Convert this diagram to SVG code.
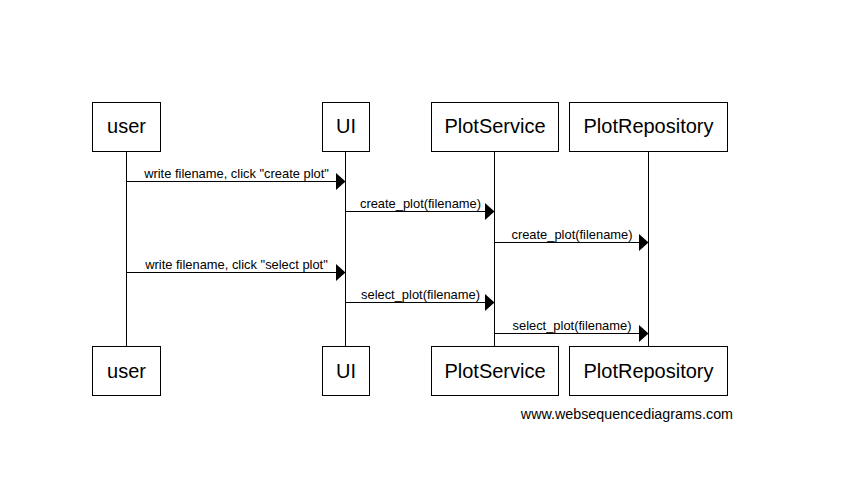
<svg xmlns="http://www.w3.org/2000/svg" width="864" height="501" viewBox="0 0 864 501">
<style>
.box{fill:#fff;stroke:#000;stroke-width:1}
.nt{font-family:"Liberation Sans",Arial,sans-serif;font-size:20px;text-anchor:middle;fill:#000}
.lt{font-family:"Liberation Sans",Arial,sans-serif;font-size:12.9px;text-anchor:middle;fill:#000}
.ll{stroke:#000;stroke-width:1}
.msg{stroke:#000;stroke-width:1;fill:none}
.ah{fill:#000}
</style>
<rect width="864" height="501" fill="#fff"/>
<g id="lifelines">
<line class="ll" x1="126.5" y1="151" x2="126.5" y2="346"/>
<line class="ll" x1="345.5" y1="151" x2="345.5" y2="346"/>
<line class="ll" x1="494.5" y1="151" x2="494.5" y2="346"/>
<line class="ll" x1="648.5" y1="151" x2="648.5" y2="346"/>
</g>
<g id="user-top"><rect class="box" x="92.5" y="102.5" width="68" height="49"/><text class="nt" x="126.5" y="133">user</text></g>
<g id="ui-top"><rect class="box" x="322.5" y="102.5" width="47" height="49"/><text class="nt" x="346" y="133">UI</text></g>
<g id="plotservice-top"><rect class="box" x="431.5" y="102.5" width="127" height="49"/><text class="nt" x="495" y="133">PlotService</text></g>
<g id="plotrepository-top"><rect class="box" x="569.5" y="102.5" width="158" height="49"/><text class="nt" x="648.5" y="133">PlotRepository</text></g>
<g id="user-bottom"><rect class="box" x="92.5" y="346.5" width="68" height="49"/><text class="nt" x="126.5" y="378">user</text></g>
<g id="ui-bottom"><rect class="box" x="322.5" y="346.5" width="47" height="49"/><text class="nt" x="346" y="378">UI</text></g>
<g id="plotservice-bottom"><rect class="box" x="431.5" y="346.5" width="127" height="49"/><text class="nt" x="495" y="378">PlotService</text></g>
<g id="plotrepository-bottom"><rect class="box" x="569.5" y="346.5" width="158" height="49"/><text class="nt" x="648.5" y="378">PlotRepository</text></g>
<g id="connectors">
<line class="msg" x1="126.5" y1="181.5" x2="336" y2="181.5"/>
<polygon class="ah" points="336,173 345.5,181.5 336,190"/>
<text class="lt" x="236.5" y="178">write filename, click "create plot"</text>
<line class="msg" x1="345.5" y1="211.5" x2="485" y2="211.5"/>
<polygon class="ah" points="485,203 494.5,211.5 485,220"/>
<text class="lt" x="420.5" y="208">create_plot(filename)</text>
<line class="msg" x1="494.5" y1="242.5" x2="639" y2="242.5"/>
<polygon class="ah" points="639,234 648.5,242.5 639,251"/>
<text class="lt" x="572" y="239">create_plot(filename)</text>
<line class="msg" x1="126.5" y1="272.5" x2="336" y2="272.5"/>
<polygon class="ah" points="336,264 345.5,272.5 336,281"/>
<text class="lt" x="236.5" y="269">write filename, click "select plot"</text>
<line class="msg" x1="345.5" y1="302.5" x2="485" y2="302.5"/>
<polygon class="ah" points="485,294 494.5,302.5 485,311"/>
<text class="lt" x="420.5" y="299">select_plot(filename)</text>
<line class="msg" x1="494.5" y1="333.5" x2="639" y2="333.5"/>
<polygon class="ah" points="639,325 648.5,333.5 639,342"/>
<text class="lt" x="572" y="330">select_plot(filename)</text>
</g>
<text x="733" y="419" font-family="'Liberation Sans',Arial,sans-serif" font-size="14.3" text-anchor="end" fill="#000">www.websequencediagrams.com</text>
</svg>
